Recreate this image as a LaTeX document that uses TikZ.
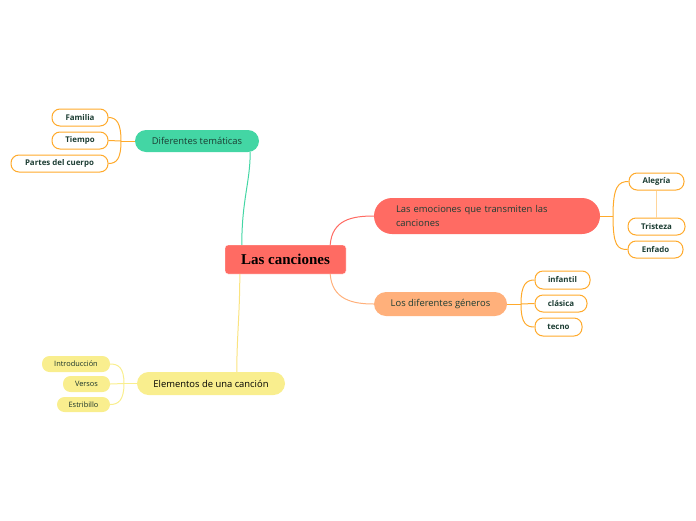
\documentclass[tikz,border=0pt]{standalone}
\usepackage{fontspec}
\setmainfont{Open Sans}
\newfontfamily\centerfont{Liberation Serif}
\definecolor{cred}{HTML}{FF6B63}
\definecolor{cteal}{HTML}{43D6A4}
\definecolor{cpeach}{HTML}{FFB07B}
\definecolor{cyel}{HTML}{F9EE8E}
\definecolor{corange}{HTML}{FFAA2B}
\definecolor{ctext}{HTML}{1C3D33}
\definecolor{clight}{HTML}{FFD59A}
\tikzset{
  main/.style={rounded corners=3pt, fill=cred, draw=white, minimum width=121pt, minimum height=29pt, inner sep=0pt, font=\centerfont\bfseries\fontsize{15}{17}\selectfont, text=black},
  branch/.style={fill=#1, draw=none, inner sep=0pt, font=\fontsize{9.4}{14}\selectfont, text=ctext},
  leaf/.style={draw=corange, line width=1pt, fill=white, rounded corners=8pt, minimum height=17pt, inner sep=0pt, font=\bfseries\fontsize{7.9}{9}\selectfont, text=ctext},
  yleaf/.style={fill=cyel, draw=none, rounded corners=7.5pt, minimum height=16pt, inner sep=0pt, font=\fontsize{7.4}{8}\selectfont, text=ctext!80!black},
  conn/.style={line width=1pt},
}
\begin{document}
\begin{tikzpicture}[x=1pt,y=-1pt]
\useasboundingbox (0,0) rectangle (696,520);
% nodes
\node[main] (c) at (285.5,259.5) {Las canciones};
\node[branch=cteal, rounded corners=11pt, minimum width=124pt, minimum height=22pt] (dt) at (197,141) {Diferentes temáticas};
\node[leaf, minimum width=56pt] (fa) at (80,117.5) {Familia};
\node[leaf, minimum width=56pt] (ti) at (80,140.5) {Tiempo};
\node[leaf, minimum width=97pt] (pc) at (59.5,163.5) {Partes del cuerpo};
\node[branch=cred, rounded corners=18pt, minimum width=226pt, minimum height=36pt, text width=182pt, align=left, inner xsep=22pt] (em) at (487,216) {Las emociones que transmiten las\\canciones};
\node[leaf, minimum width=55pt] (al) at (656.5,181.5) {Alegría};
\node[leaf, minimum width=57pt] (tr) at (656.5,226.5) {Tristeza};
\node[leaf, minimum width=55pt] (en) at (655.5,249.5) {Enfado};
\node[branch=cpeach, rounded corners=12pt, minimum width=133pt, minimum height=24pt] (ge) at (440.5,304) {Los diferentes géneros};
\node[leaf, minimum width=55pt, minimum height=18pt] (inf) at (562.5,280) {infantil};
\node[leaf, minimum width=52pt] (cl) at (561,303.5) {clásica};
\node[leaf, minimum width=47pt, minimum height=18pt] (te) at (558.5,327) {tecno};
\node[branch=cyel, rounded corners=11.5pt, minimum width=148pt, minimum height=23pt, text=black] (el) at (211,383.5) {Elementos de una canción};
\node[yleaf, minimum width=68pt] (in) at (76,364) {Introducción};
\node[yleaf, minimum width=47pt] (ve) at (86.5,384) {Versos};
\node[yleaf, minimum width=53pt, minimum height=15pt] (es) at (83.5,404.5) {Estribillo};
% junction coordinates
\coordinate (jdt) at (121,141);
\coordinate (jem) at (613,216);
\coordinate (jge) at (521,304);
\coordinate (jel) at (124,383.5);
% main connectors
\draw[conn, cteal] ([xshift=17pt]c.north west) .. controls ++(0,-45) and ++(0,30) .. ([xshift=-9pt]dt.south east);
\draw[conn, cyel!90!orange] ([xshift=15pt]c.south west) .. controls ++(0,40) and ++(0,-35) .. ([xshift=100pt]el.north west);
\draw[conn, cred] ([xshift=-16pt]c.north east) .. controls ++(2,-25) and ++(-22,0) .. (em.west);
\draw[conn, cpeach] ([xshift=-16pt]c.south east) .. controls ++(2,25) and ++(-22,0) .. (ge.west);
% child connectors
\draw[conn, corange] (dt.west) -- (jdt);
\draw[conn, corange] (jdt) .. controls ++(0,-18) and ++(8,0) .. (fa.east);
\draw[conn, corange] (jdt) -- (ti.east);
\draw[conn, corange] (jdt) .. controls ++(0,18) and ++(8,0) .. (pc.east);
\draw[conn, corange] (em.east) -- (jem);
\draw[conn, corange] (jem) .. controls ++(0,-30) and ++(-10,0) .. (al.west);
\draw[conn, corange] (jem) .. controls ++(0,30) and ++(-10,0) .. (en.west);
\draw[conn, clight] (al.south) -- (tr.north);
\draw[conn, corange] (ge.east) -- (jge);
\draw[conn, corange] (jge) .. controls ++(0,-20) and ++(-8,0) .. (inf.west);
\draw[conn, corange] (jge) -- (cl.west);
\draw[conn, corange] (jge) .. controls ++(0,20) and ++(-8,0) .. (te.west);
\draw[conn, cyel] (el.west) -- (jel);
\draw[conn, cyel] (jel) .. controls ++(0,-16) and ++(8,0) .. (in.east);
\draw[conn, cyel] (jel) -- (ve.east);
\draw[conn, cyel] (jel) .. controls ++(0,17) and ++(8,0) .. (es.east);
\end{tikzpicture}
\end{document}
